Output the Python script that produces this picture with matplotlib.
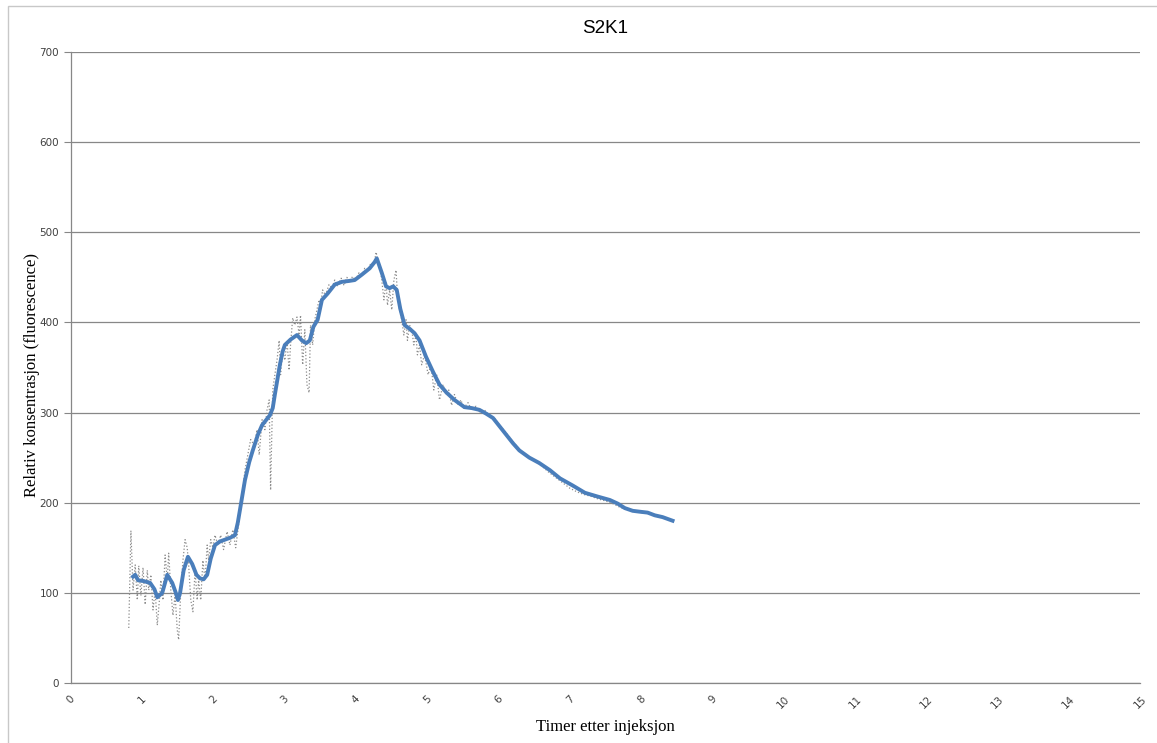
import matplotlib
matplotlib.use("Agg")
import matplotlib.pyplot as plt
from matplotlib.patches import Rectangle

raw_x = [0.81, 0.84, 0.87, 0.90, 0.93, 0.95, 0.98, 1.01, 1.04, 1.07, 1.09, 1.12,
         1.15, 1.18, 1.21, 1.24, 1.26, 1.29, 1.32, 1.35, 1.37, 1.40, 1.43, 1.46,
         1.49, 1.51, 1.54, 1.57, 1.60, 1.63, 1.65, 1.68, 1.71, 1.74, 1.77, 1.79,
         1.82, 1.85, 1.88, 1.91, 1.93, 1.96, 1.99, 2.02, 2.06, 2.10, 2.14, 2.19,
         2.23, 2.27, 2.31, 2.36, 2.38, 2.41, 2.44, 2.48, 2.52, 2.57, 2.61, 2.64,
         2.68, 2.72, 2.75, 2.78, 2.80, 2.83, 2.86, 2.89, 2.92, 2.94, 2.97, 3.00,
         3.03, 3.06, 3.08, 3.11, 3.14, 3.17, 3.20, 3.22, 3.25, 3.28, 3.31, 3.34,
         3.36, 3.39, 3.42, 3.45, 3.48, 3.50, 3.53, 3.57, 3.62, 3.66, 3.70, 3.74,
         3.79, 3.83, 3.87, 3.91, 3.95, 3.99, 4.04, 4.08, 4.12, 4.16, 4.21, 4.25,
         4.28, 4.30, 4.33, 4.36, 4.39, 4.42, 4.44, 4.47, 4.50, 4.53, 4.56, 4.58,
         4.61, 4.64, 4.67, 4.70, 4.72, 4.75, 4.78, 4.81, 4.84, 4.86, 4.89, 4.92,
         4.96, 5.01, 5.05, 5.09, 5.13, 5.17, 5.22, 5.26, 5.30, 5.34, 5.38, 5.43,
         5.47, 5.51, 5.57, 5.62, 5.68, 5.73, 5.80, 5.87, 5.94, 6.01, 6.10, 6.20,
         6.30, 6.40, 6.50, 6.60, 6.70, 6.80, 6.90, 7.00, 7.10, 7.20, 7.30, 7.40,
         7.50, 7.60, 7.70, 7.80, 7.90, 8.00, 8.10, 8.20, 8.30, 8.44]
raw_y = [61, 169, 103, 131, 92, 130, 97, 128, 87, 125, 103, 120,
         81, 103, 64, 92, 114, 92, 142, 114, 144, 103, 75, 98,
         59, 48, 103, 136, 159, 150, 131, 92, 79, 125, 92, 114,
         92, 136, 114, 153, 136, 159, 150, 164, 153, 164, 148, 168,
         153, 170, 150, 181, 197, 214, 236, 253, 270, 264, 281, 253,
         292, 281, 303, 314, 214, 325, 342, 358, 380, 342, 369, 358,
         380, 347, 375, 405, 397, 406, 386, 408, 353, 392, 331, 322,
         397, 375, 403, 414, 425, 419, 436, 430, 442, 438, 447, 440,
         449, 441, 450, 445, 451, 447, 455, 451, 460, 458, 466, 464,
         478, 471, 464, 447, 425, 445, 419, 436, 414, 447, 458, 430,
         414, 403, 386, 403, 380, 397, 392, 375, 386, 364, 375, 353,
         364, 342, 353, 325, 342, 314, 331, 320, 325, 308, 320, 308,
         314, 305, 311, 303, 307, 301, 303, 296, 294, 286, 278, 268,
         258, 252, 247, 241, 234, 228, 222, 216, 212, 209, 207, 204,
         202, 199, 195, 192, 191, 189, 188, 186, 183, 180]

# smoothed curve (blue)
smooth_x = [0.87, 0.90, 0.94, 1.02, 1.11, 1.17, 1.21, 1.28, 1.35, 1.42, 1.47,
            1.50, 1.53, 1.58, 1.64, 1.70, 1.76, 1.81, 1.86, 1.91, 1.96, 2.02,
            2.09, 2.16, 2.23, 2.30, 2.34, 2.37, 2.44, 2.50, 2.55, 2.62, 2.68,
            2.74, 2.79, 2.83, 2.86, 2.93, 2.97, 3.00, 3.08, 3.17, 3.24, 3.30,
            3.35, 3.40, 3.46, 3.52, 3.60, 3.70, 3.80, 3.90, 3.98, 4.08, 4.19,
            4.26, 4.29, 4.36, 4.42, 4.47, 4.52, 4.57, 4.62, 4.68, 4.75, 4.82,
            4.89, 4.98, 5.08, 5.17, 5.27, 5.38, 5.45, 5.52, 5.62, 5.73, 5.82,
            5.92, 6.02, 6.10, 6.20, 6.29, 6.43, 6.57, 6.72, 6.86, 7.04, 7.21,
            7.38, 7.56, 7.67, 7.77, 7.88, 7.98, 8.09, 8.19, 8.30, 8.44]
smooth_y = [118, 120, 114, 113, 111, 104, 95, 100, 120, 111, 100,
            92, 100, 125, 140, 132, 120, 116, 115, 120, 138, 153,
            157, 159, 161, 164, 178, 192, 225, 245, 258, 275, 286,
            292, 297, 305, 320, 353, 368, 375, 381, 386, 380, 377,
            380, 395, 403, 425, 432, 442, 445, 446, 447, 453, 460,
            467, 471, 455, 440, 438, 440, 436, 415, 397, 393, 388,
            380, 362, 345, 331, 322, 314, 310, 306, 305, 303, 299,
            294, 284, 276, 266, 258, 250, 244, 236, 227, 219, 211,
            207, 203, 199, 194, 191, 190, 189, 186, 184, 180]

x_ticks = list(range(0, 16))
y_ticks = [0, 100, 200, 300, 400, 500, 600, 700]

fig = plt.figure(figsize=(11.57, 7.43), dpi=100)
ax = fig.add_axes([0.0614, 0.0808, 0.9240, 0.8492])

# chart frame like the spreadsheet border
fig.patches.append(Rectangle((0.007, -0.01), 1.1, 1.002, transform=fig.transFigure,
                             fill=False, edgecolor="#c8c8c8", linewidth=1.0))

ax.plot(raw_x, raw_y, color="#8c8c8c", linestyle=":", linewidth=0.9)
ax.plot(smooth_x, smooth_y, color="#4a7ebb", linewidth=2.8)

ax.set_xlim(0, 15)
ax.set_ylim(0, 700)
ax.set_xticks(x_ticks)
ax.set_yticks(y_ticks)
ax.set_xticklabels([str(t) for t in x_ticks], rotation=45, ha="center", va="top")
ax.tick_params(axis="x", length=0, pad=8, labelsize=7.5, labelcolor="#404040")
ax.tick_params(axis="y", length=5, direction="out", color="#878787",
               labelsize=7.5, labelcolor="#404040")

ax.grid(axis="y", color="#878787", linewidth=0.9)
ax.set_axisbelow(True)
for s in ["top", "right"]:
    ax.spines[s].set_visible(False)
for s in ["left", "bottom"]:
    ax.spines[s].set_color("#878787")
    ax.spines[s].set_linewidth(0.9)

ax.set_title("S2K1", fontsize=13.5, family="Liberation Sans", pad=14)
ax.set_xlabel("Timer etter injeksjon", fontsize=12, family="Liberation Serif", labelpad=6)
ax.set_ylabel("Relativ konsentrasjon (fluorescence)", fontsize=12,
              family="Liberation Serif")
ax.yaxis.set_label_coords(-0.029, 0.488)

fig.savefig("out.png", dpi=100)
